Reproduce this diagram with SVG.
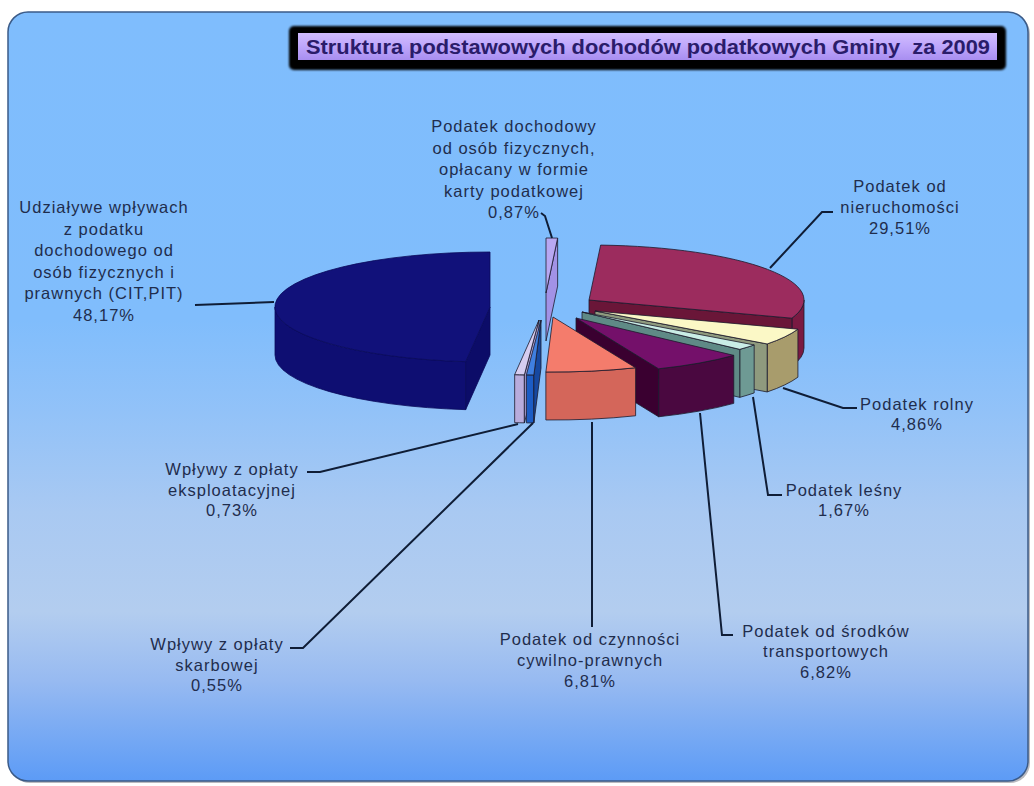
<svg xmlns="http://www.w3.org/2000/svg" width="1034" height="786" viewBox="0 0 1034 786">
<defs>
<linearGradient id="bg" x1="0" y1="0" x2="0" y2="1">
<stop offset="0" stop-color="#7fbdfd"/>
<stop offset="0.4" stop-color="#80bdfc"/>
<stop offset="0.52" stop-color="#92c2f8"/>
<stop offset="0.65" stop-color="#a9c9f2"/>
<stop offset="0.78" stop-color="#b3cdef"/>
<stop offset="0.87" stop-color="#97baf1"/>
<stop offset="1" stop-color="#5c9bf6"/>
</linearGradient>
<linearGradient id="tg" x1="0" y1="0" x2="0" y2="1">
<stop offset="0" stop-color="#d2bdff"/>
<stop offset="0.5" stop-color="#bea6fb"/>
<stop offset="1" stop-color="#a88ef0"/>
</linearGradient>
<filter id="soft" x="-5%" y="-30%" width="110%" height="160%">
<feGaussianBlur stdDeviation="1"/>
</filter>
</defs>
<style>
.t { font-family: "Liberation Sans", Arial, sans-serif; font-size: 16.5px; letter-spacing: 1px; fill: #1f2d4d; text-anchor: middle; }
.ld { fill: none; stroke: #0f1d36; stroke-width: 2; stroke-linejoin: miter; }
.e { stroke: #1c1a2c; stroke-width: 0.8; stroke-linejoin: round; }
.en { stroke: #0a0a5a; stroke-width: 0.8; stroke-linejoin: round; }
</style>
<rect x="0" y="0" width="1034" height="786" fill="#ffffff"/>
<g id="frame">
<rect x="10" y="14" width="1020" height="769" rx="20" fill="#1a1a2a" opacity="0.3"/>
<rect x="8" y="12" width="1020" height="769" rx="20" fill="url(#bg)" stroke="#3b5b88" stroke-width="1.5"/>
</g>
<g id="title">
<rect x="289" y="26" width="717" height="44" rx="5" fill="#000000" filter="url(#soft)"/>
<rect x="298" y="33" width="699" height="27" fill="url(#tg)"/>
<text x="306" y="53.5" xml:space="preserve" textLength="684" lengthAdjust="spacingAndGlyphs" style="font-family:'Liberation Sans',Arial,sans-serif;font-size:20px;font-weight:bold;fill:#2a1c6a">Struktura podstawowych dochodów podatkowych Gminy  za 2009</text>
</g>
<g id="pie">
<g id="slice-karta">
<polygon class="e" points="546,293 557.63,238.08 557.63,286.08 546,341" fill="#a292e6"/>
<path class="e" d="M546,293 L546,238 A215,55 0 0 1 557.63,238.08 Z" fill="#b8a8f2"/>
</g>
<g id="slice-nieruchomosci">
<path class="e" d="M804,300 A215,55 0 0 1 791.92,318.18 L791.92,366.18 A215,55 0 0 0 804,348 Z" fill="#7a1a42"/>
<polygon class="e" points="589,300 791.92,318.18 791.92,366.18 589,348" fill="#6a1638"/>
<path class="e" d="M589,300 L600.63,245.08 A215,55 0 0 1 791.92,318.18 Z" fill="#9c2c5e"/>
</g>
<g id="slice-udzialy">
<path class="en" d="M275,307 A215,55 0 0 0 465.66,361.65 L465.66,409.65 A215,55 0 0 1 275,355 Z" fill="#0e0e72"/>
<polygon class="en" points="490,307 465.66,361.65 465.66,409.65 490,355" fill="#0c0c68"/>
<path class="en" d="M490,307 L465.66,361.65 A215,55 0 0 1 490,252 Z" fill="#11117a"/>
</g>
<g id="slice-rolny">
<path class="e" d="M797.92,329.18 A215,55 0 0 1 767.16,343.95 L767.16,391.95 A215,55 0 0 0 797.92,377.18 Z" fill="#a89c6c"/>
<polygon class="e" points="595,311 767.16,343.95 767.16,391.95 595,359" fill="#8f9a7e"/>
<path class="e" d="M595,311 L797.92,329.18 A215,55 0 0 1 767.16,343.95 Z" fill="#fbf8c6"/>
</g>
<g id="slice-lesny">
<path class="e" d="M754.16,344.95 A215,55 0 0 1 739.75,349.37 L739.75,397.37 A215,55 0 0 0 754.16,392.95 Z" fill="#6e9a94"/>
<polygon class="e" points="582,312 739.75,349.37 739.75,397.37 582,360" fill="#5f8a86"/>
<path class="e" d="M582,312 L754.16,344.95 A215,55 0 0 1 739.75,349.37 Z" fill="#c9ede6"/>
</g>
<g id="slice-srodki">
<path class="e" d="M733.75,355.37 A215,55 0 0 1 658.62,368.78 L658.62,416.78 A215,55 0 0 0 733.75,403.37 Z" fill="#4a0840"/>
<polygon class="e" points="576,318 658.62,368.78 658.62,416.78 576,366" fill="#3a0030"/>
<path class="e" d="M576,318 L733.75,355.37 A215,55 0 0 1 658.62,368.78 Z" fill="#74106a"/>
</g>
<g id="slice-czynnosci">
<path class="e" d="M635.62,367.78 A215,55 0 0 1 545.87,371.97 L545.87,419.97 A215,55 0 0 0 635.62,415.78 Z" fill="#d4665a"/>
<path class="e" d="M553,317 L635.62,367.78 A215,55 0 0 1 545.87,371.97 Z" fill="#f47c6c"/>
</g>
<g id="slice-eksploatacyjna">
<path class="e" d="M524.38,374.87 A215,55 0 0 1 514.66,374.65 L514.66,422.65 A215,55 0 0 0 524.38,422.87 Z" fill="#b8acdc"/>
<polygon class="e" points="539,320 524.38,374.87 524.38,422.87 539,368" fill="#a89cd0"/>
<path class="e" d="M539,320 L524.38,374.87 A215,55 0 0 1 514.66,374.65 Z" fill="#d6cdf0"/>
</g>
<g id="slice-skarbowa">
<path class="e" d="M533.87,374.97 A215,55 0 0 1 526.38,374.87 L526.38,422.87 A215,55 0 0 0 533.87,422.97 Z" fill="#1c5cc4"/>
<polygon class="e" points="541,320 533.87,374.97 533.87,422.97 541,368" fill="#1648a0"/>
<path class="e" d="M541,320 L533.87,374.97 A215,55 0 0 1 526.38,374.87 Z" fill="#3f7fe0"/>
</g>
</g>
<g id="connectors">
<polyline class="ld" points="195,305 274,302"/>
<polyline class="ld" points="541,213 545,216 552,238"/>
<polyline class="ld" points="833,212 822,212 770,268"/>
<polyline class="ld" points="783,388 843,408 857,408"/>
<polyline class="ld" points="753,397 768,495 782,495"/>
<polyline class="ld" points="700,413 722,635 733,635"/>
<polyline class="ld" points="592,422 592,627"/>
<polyline class="ld" points="307,472 320,472 518,424"/>
<polyline class="ld" points="290,648 303,648 533,423"/>
</g>
<g id="label-karta">
<text class="t" x="514" y="132">Podatek dochodowy</text>
<text class="t" x="514" y="153.5">od osób fizycznych,</text>
<text class="t" x="514" y="175">opłacany w formie</text>
<text class="t" x="514" y="196.5">karty podatkowej</text>
<text class="t" x="514" y="218">0,87%</text>
</g>
<g id="label-nieruchomosci">
<text class="t" x="900" y="192">Podatek od</text>
<text class="t" x="900" y="213">nieruchomości</text>
<text class="t" x="900" y="234">29,51%</text>
</g>
<g id="label-udzialy">
<text class="t" x="104" y="213">Udziaływe wpływach</text>
<text class="t" x="104" y="234.5">z podatku</text>
<text class="t" x="104" y="256">dochodowego od</text>
<text class="t" x="104" y="277.5">osób fizycznych i</text>
<text class="t" x="104" y="299">prawnych (CIT,PIT)</text>
<text class="t" x="104" y="320.5">48,17%</text>
</g>
<g id="label-rolny">
<text class="t" x="917" y="410">Podatek rolny</text>
<text class="t" x="917" y="430">4,86%</text>
</g>
<g id="label-lesny">
<text class="t" x="844" y="496">Podatek leśny</text>
<text class="t" x="844" y="516">1,67%</text>
</g>
<g id="label-srodki">
<text class="t" x="826" y="637">Podatek od środków</text>
<text class="t" x="826" y="657">transportowych</text>
<text class="t" x="826" y="678">6,82%</text>
</g>
<g id="label-czynnosci">
<text class="t" x="590" y="645">Podatek od czynności</text>
<text class="t" x="590" y="666">cywilno-prawnych</text>
<text class="t" x="590" y="687">6,81%</text>
</g>
<g id="label-eksploatacyjna">
<text class="t" x="232" y="475">Wpływy z opłaty</text>
<text class="t" x="232" y="495.5">eksploatacyjnej</text>
<text class="t" x="232" y="516">0,73%</text>
</g>
<g id="label-skarbowa">
<text class="t" x="217" y="650">Wpływy z opłaty</text>
<text class="t" x="217" y="670.5">skarbowej</text>
<text class="t" x="217" y="691">0,55%</text>
</g>
</svg>
